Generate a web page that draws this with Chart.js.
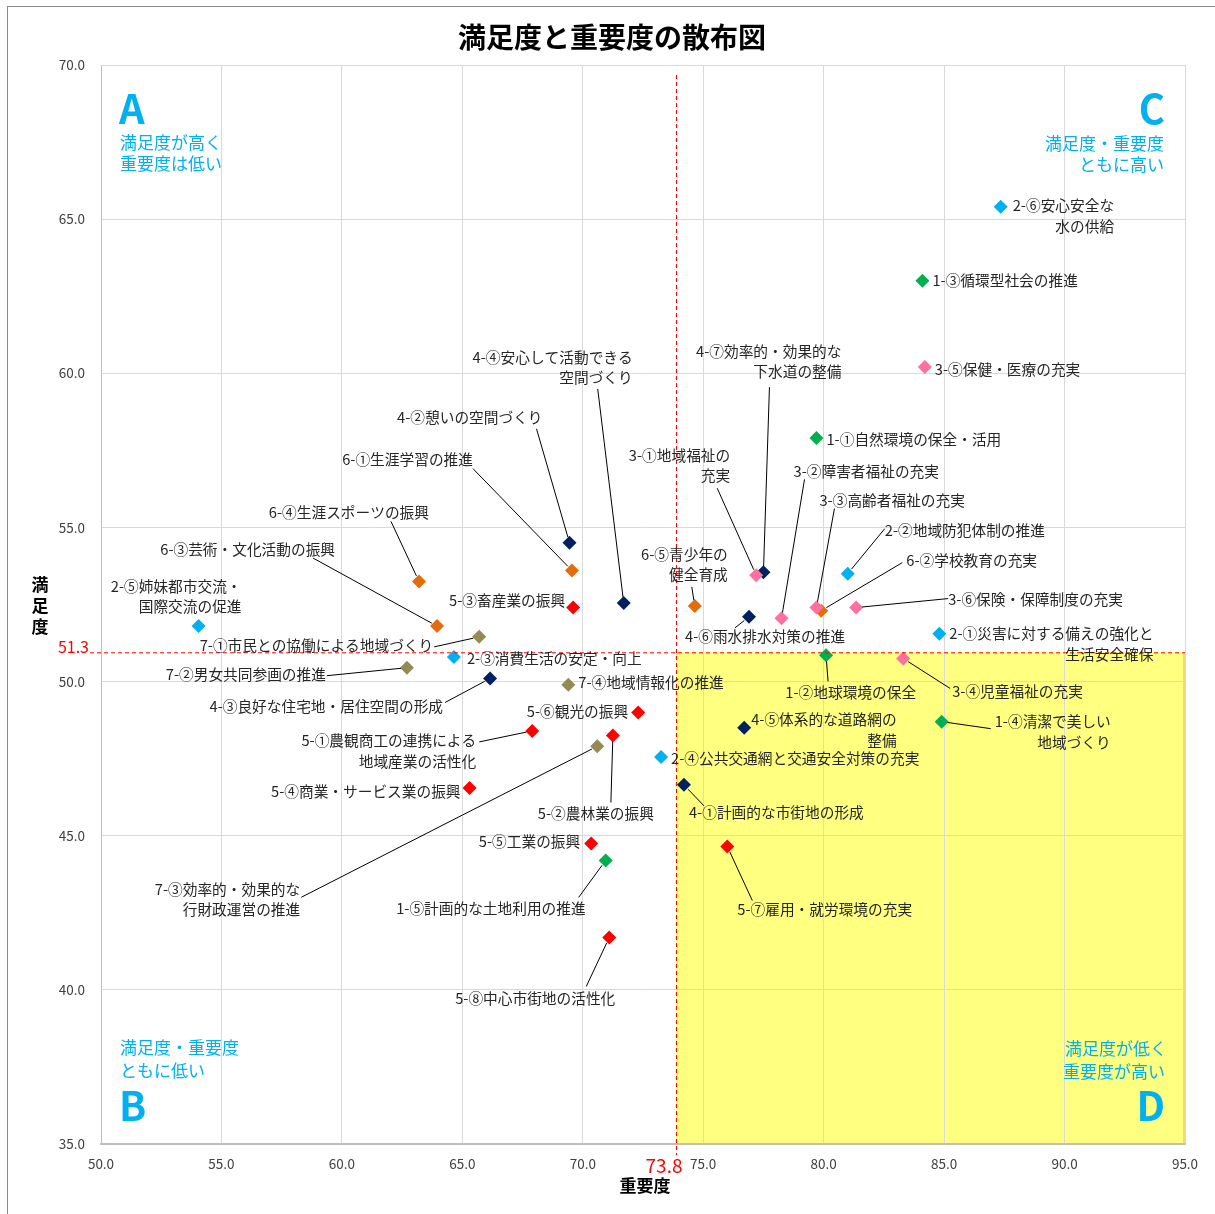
<!DOCTYPE html>
<html lang="ja">
<head>
<meta charset="utf-8">
<title>満足度と重要度の散布図</title>
<script src="https://cdn.jsdelivr.net/npm/chart.js@4.4.1/dist/chart.umd.min.js"></script>
<style>
  html, body { margin: 0; padding: 0; background: #fff; overflow: hidden; }
  #wrap { position: relative; width: 1215px; height: 1214px; }
  #frame { position: absolute; left: 7px; top: 6px; width: 1215px; height: 1214px; border: 1px solid #8c8c8c; pointer-events: none; }
</style>
</head>
<body>
<div id="wrap">
  <canvas id="chart"></canvas>
  <div id="frame"></div>
</div>
<script>
// items (施策) with 重要度 (x) and 満足度 (y)
const items = [
  '2-⑥安心安全な\n水の供給',
  '1-③循環型社会の推進',
  '3-⑤保健・医療の充実',
  '1-①自然環境の保全・活用',
  '2-②地域防犯体制の推進',
  '6-②学校教育の充実',
  '3-③高齢者福祉の充実',
  '3-⑥保険・保障制度の充実',
  '2-①災害に対する備えの強化と\n生活安全確保',
  '3-④児童福祉の充実',
  '1-②地球環境の保全',
  '1-④清潔で美しい\n地域づくり',
  '4-⑦効率的・効果的な\n下水道の整備',
  '3-①地域福祉の\n充実',
  '3-②障害者福祉の充実',
  '4-⑥雨水排水対策の推進',
  '6-⑤青少年の\n健全育成',
  '4-④安心して活動できる\n空間づくり',
  '5-③畜産業の振興',
  '6-①生涯学習の推進',
  '4-②憩いの空間づくり',
  '6-④生涯スポーツの振興',
  '6-③芸術・文化活動の振興',
  '2-⑤姉妹都市交流・\n国際交流の促進',
  '7-①市民との協働による地域づくり',
  '2-③消費生活の安定・向上',
  '7-②男女共同参画の推進',
  '4-③良好な住宅地・居住空間の形成',
  '7-④地域情報化の推進',
  '5-⑥観光の振興',
  '5-①農観商工の連携による\n地域産業の活性化',
  '5-②農林業の振興',
  '7-③効率的・効果的な\n行財政運営の推進',
  '2-④公共交通網と交通安全対策の充実',
  '4-⑤体系的な道路網の\n整備',
  '4-①計画的な市街地の形成',
  '5-④商業・サービス業の振興',
  '5-⑤工業の振興',
  '1-⑤計画的な土地利用の推進',
  '5-⑧中心市街地の活性化',
  '5-⑦雇用・就労環境の充実'
];
const importance = [
  87.35, 84.1, 84.2, 79.7, 81.0, 79.9, 79.7, 81.35, 84.8, 83.3,
  80.1, 84.9, 77.5, 77.2, 78.25, 76.9, 74.65, 71.7, 69.6, 69.55,
  69.45, 63.2, 63.95, 54.05, 65.7, 64.65, 62.7, 66.15, 69.4, 72.3,
  67.9, 71.25, 70.6, 73.25, 76.7, 74.2, 65.3, 70.35, 70.95, 71.1,
  76.0
];
const satisfaction = [
  65.4, 63.0, 60.2, 57.9, 53.5, 52.3, 52.4, 52.4, 51.55, 50.75,
  50.85, 48.7, 53.55, 53.45, 52.05, 52.1, 52.45, 52.55, 52.4, 53.6,
  54.5, 53.25, 51.8, 51.8, 51.45, 50.8, 50.45, 50.1, 49.9, 49.0,
  48.4, 48.25, 47.9, 47.55, 48.5, 46.65, 46.55, 44.75, 44.2, 41.7,
  44.65
];
const groups = ['1', '2', '3', '4', '5', '6', '7'];
const groupColors = ['#00B050', '#00B0F0', '#FF6F9F', '#002060', '#FF0000', '#E46C0A', '#948A54'];

const meanImportance = 73.8;
const meanSatisfaction = 51.3;
// the reference draws its mean lines slightly off the printed values
const impLineAt = 73.87;
const satLineAt = 50.95;

// label placement in px from the marker: [side, dx, dy, leaderX, leaderY]
// side 'l' = dx is the left edge of the label, 'r' = dx is its right edge
const labelPlace = [
  ['l', 12, -1], ['l', 10, 0], ['l', 10, 2], ['l', 10, 1],
  ['l', 37, -43, 37, -45], ['l', 85, -50, 81, -48], ['l', 3, -107, 18, -99],
  ['l', 92, -8, 92, -9], ['l', 10, 0], ['l', 49, 33, 47, 30],
  ['r', 90, 37, 2, 26], ['l', 53, 0, 49, 7], ['r', 78, -221, 6, -185],
  ['r', -26, -120, -39, -87], ['l', 12, -147, 23, -139], ['l', -64, 20, -14, 11],
  ['r', 33, -52, -3, -19], ['r', 9, -246, -26, -214], ['r', -8, -7],
  ['r', -99, -111, -99, -102], ['r', -27, -125, -33, -114], ['r', 10, -69, -28, -60],
  ['r', -102, -77, -124, -68], ['r', 43, -40], ['r', -46, 9, -45, 10],
  ['l', 13, 2], ['r', -81, 7, -80, 8], ['r', -47, 28, -45, 24],
  ['l', 10, -2], ['r', -10, -1], ['r', -56, 10, -53, 11],
  ['r', 41, 78, -2, 67], ['r', -297, 143, -296, 151], ['l', 10, 1],
  ['l', 7, -8], ['l', 5, 28, 20, 21], ['r', -9, 3], ['r', -11, -2],
  ['r', -20, 48, -27, 37], ['r', 6, 61, -23, 49], ['l', 10, 63, 25, 54]
];

const FONT = '"Noto Sans CJK JP", "Noto Sans", sans-serif';
const CYAN = '#00B0F0';

const datasets = groups.map((g, gi) => ({
  label: g,
  data: items.map((t, i) => ({ x: importance[i], y: satisfaction[i], i }))
    .filter(p => items[p.i].startsWith(g + '-')),
  backgroundColor: groupColors[gi],
  borderColor: groupColors[gi],
  borderWidth: 0,
  pointStyle: 'rectRot',
  pointRadius: 7,
  pointHoverRadius: 7
}));

const overlay = {
  id: 'overlay',
  beforeDraw(chart) {
    const { ctx, chartArea: a, scales: { x, y } } = chart;
    const mx = x.getPixelForValue(impLineAt);
    const my = y.getPixelForValue(satLineAt);
    ctx.save();
    ctx.fillStyle = '#FFFF80';
    ctx.fillRect(mx, my, a.right - mx, a.bottom - my);
    ctx.fillStyle = '#F5D67A';
    ctx.fillRect(a.right - 2, my, 2, a.bottom - my);
    ctx.restore();
  },
  afterDatasetsDraw(chart) {
    const { ctx, chartArea: a, scales: { x, y } } = chart;
    const mx = x.getPixelForValue(impLineAt);
    const my = y.getPixelForValue(satLineAt);
    ctx.save();
    // mean lines
    ctx.strokeStyle = '#FF0000';
    ctx.lineWidth = 1;
    ctx.setLineDash([4, 3]);
    ctx.beginPath();
    ctx.moveTo(mx + 0.5, a.top + 10);
    ctx.lineTo(mx + 0.5, a.bottom + 11);
    ctx.moveTo(a.left - 11, my + 0.5);
    ctx.lineTo(a.right, my + 0.5);
    ctx.stroke();
    ctx.setLineDash([]);

    // item labels with leader lines
    ctx.font = `14.7px ${FONT}`;
    ctx.fillStyle = '#262626';
    ctx.textBaseline = 'middle';
    ctx.textAlign = 'right';
    ctx.strokeStyle = '#000';
    items.forEach((text, i) => {
      const px = x.getPixelForValue(importance[i]);
      const py = y.getPixelForValue(satisfaction[i]);
      const [side, dx, dy, lx, ly] = labelPlace[i];
      const lines = text.split('\n');
      const w = Math.max(...lines.map(l => ctx.measureText(l).width));
      const right = side === 'l' ? px + dx + w : px + dx;
      lines.forEach((l, k) => ctx.fillText(l, right, py + dy + k * 20.5));
      if (lx !== undefined) {
        const sx = px + lx, sy = py + ly;
        const d = Math.hypot(lx, ly);
        ctx.beginPath();
        ctx.moveTo(sx, sy);
        ctx.lineTo(px + lx / d * 6, py + ly / d * 6);
        ctx.stroke();
      }
    });
    ctx.restore();
  },
  afterDraw(chart) {
    const { ctx, chartArea: a, scales: { x, y } } = chart;
    const mx = x.getPixelForValue(impLineAt);
    const my = y.getPixelForValue(satLineAt);
    ctx.save();
    ctx.textBaseline = 'middle';

    // title
    ctx.fillStyle = '#000';
    ctx.textAlign = 'center';
    ctx.font = `bold 28px ${FONT}`;
    ctx.fillText('満足度と重要度の散布図', 612, 37);

    // axis titles
    ctx.font = `bold 17px ${FONT}`;
    ctx.fillText('重要度', 645, 1186);
    ['満', '足', '度'].forEach((c, k) => ctx.fillText(c, 40, 585 + k * 21));

    // mean values
    ctx.fillStyle = '#FF0000';
    ctx.font = `16px ${FONT}`;
    ctx.textAlign = 'right';
    ctx.fillText(meanSatisfaction.toFixed(1), a.left - 12, my - 5);
    ctx.font = `19px ${FONT}`;
    ctx.textAlign = 'center';
    ctx.fillText(meanImportance.toFixed(1), mx - 12, a.bottom + 22);

    // quadrant notes
    ctx.fillStyle = CYAN;
    const L = a.left + 19, R = a.right - 21;
    ctx.font = `bold 40px ${FONT}`;
    ctx.textAlign = 'left';
    ctx.fillText('A', L - 1, a.top + 44);
    ctx.fillText('B', L - 1, a.bottom - 38);
    ctx.textAlign = 'right';
    ctx.fillText('C', R + 1, a.top + 44);
    ctx.fillText('D', R + 1, a.bottom - 38);
    ctx.font = `17px ${FONT}`;
    ctx.textAlign = 'left';
    ctx.fillText('満足度が高く', L, a.top + 78);
    ctx.fillText('重要度は低い', L, a.top + 99);
    ctx.fillText('満足度・重要度', L, a.bottom - 96);
    ctx.fillText('ともに低い', L, a.bottom - 73);
    ctx.textAlign = 'right';
    ctx.fillText('満足度・重要度', R, a.top + 79);
    ctx.fillText('ともに高い', R, a.top + 100);
    ctx.fillText('満足度が低く', R + 3, a.bottom - 95);
    ctx.fillText('重要度が高い', R + 1, a.bottom - 72);
    ctx.restore();
  }
};

new Chart(document.getElementById('chart'), {
  type: 'scatter',
  data: { datasets },
  options: {
    responsive: true,
    maintainAspectRatio: false,
    animation: false,
    layout: { padding: { top: 65, right: 30, left: 0, bottom: 0 } },
    plugins: { legend: { display: false }, tooltip: { enabled: false } },
    scales: {
      x: {
        min: 50, max: 95,
        afterFit(s) { s.height = 70; },
        grid: { color: '#d9d9d9', drawTicks: false },
        border: { color: '#bfbfbf', width: 2 },
        ticks: {
          stepSize: 5, padding: 12, color: '#404040',
          font: { family: FONT, size: 13.5 },
          callback: v => v.toFixed(1)
        }
      },
      y: {
        min: 35, max: 70,
        afterFit(s) { s.width = 101; },
        grid: { color: '#d9d9d9', drawTicks: false },
        border: { color: '#bfbfbf', width: 1 },
        ticks: {
          stepSize: 5, padding: 16, color: '#404040',
          font: { family: FONT, size: 13.5 },
          callback: v => v.toFixed(1)
        }
      }
    }
  },
  plugins: [overlay]
});
</script>
</body>
</html>
